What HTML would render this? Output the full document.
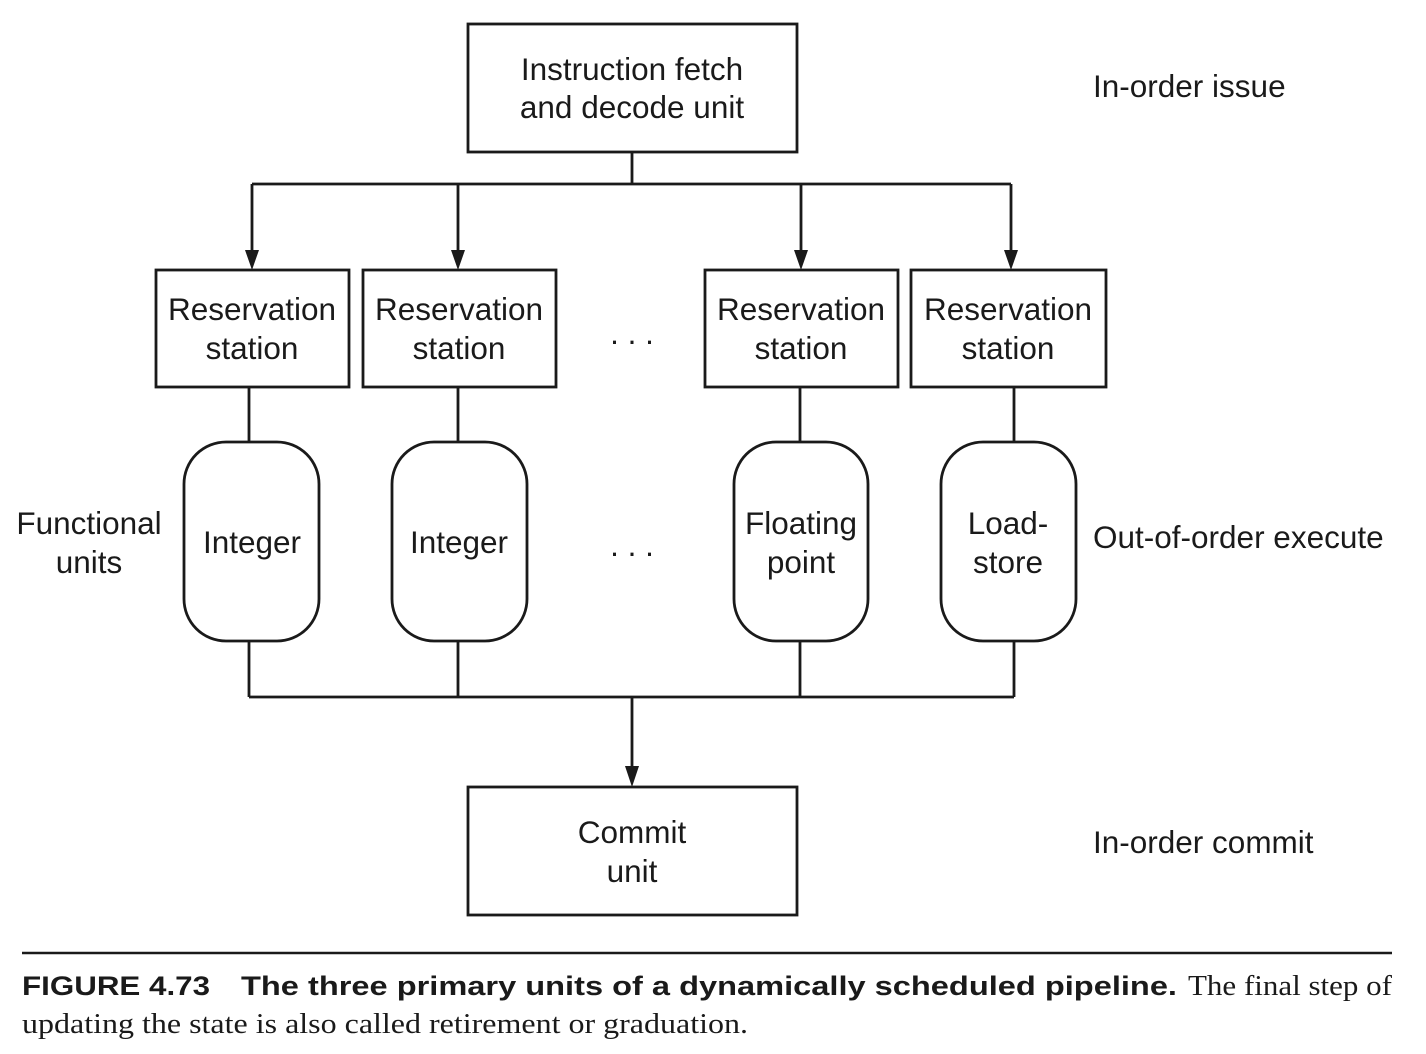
<!DOCTYPE html>
<html><head><style>
html,body{margin:0;padding:0;background:#fff;}
svg{display:block;}
text{font-family:"Liberation Sans",Arial,sans-serif;font-size:31.5px;fill:#1a1a1a;}
.c{text-anchor:middle;}
</style></head><body>
<svg width="1426" height="1054" viewBox="0 0 1426 1054" xmlns="http://www.w3.org/2000/svg">
<g fill="none" stroke="#1a1a1a" stroke-width="2.8">
<rect x="468" y="24" width="329" height="128"/>
<rect x="468" y="787" width="329" height="128"/>
<rect x="156" y="270" width="193" height="117"/>
<rect x="363" y="270" width="193" height="117"/>
<rect x="705" y="270" width="193" height="117"/>
<rect x="911" y="270" width="195" height="117"/>
<rect x="184" y="442" width="135" height="199" rx="42"/>
<rect x="392" y="442" width="135" height="199" rx="42"/>
<rect x="734" y="442" width="134" height="199" rx="42"/>
<rect x="941" y="442" width="135" height="199" rx="42"/>
<path d="M632 152V184M252 184H1011M252 184V252M458 184V252M801 184V252M1011 184V252"/>
<path d="M249 387V442M458 387V442M800 387V442M1014 387V442"/>
<path d="M249 641V697M458 641V697M800 641V697M1014 641V697M249 697H1014M632 697V768"/>
</g>
<g fill="#1a1a1a">
<path d="M245 250H259L252 270Z"/>
<path d="M451 250H465L458 270Z"/>
<path d="M794 250H808L801 270Z"/>
<path d="M1004 250H1018L1011 270Z"/>
<path d="M625 766H639L632 787Z"/>
</g>
<text class="c" x="632" y="80">Instruction fetch</text>
<text class="c" x="632" y="118">and decode unit</text>
<text class="c" x="252" y="320">Reservation</text><text class="c" x="252" y="359">station</text>
<text class="c" x="459" y="320">Reservation</text><text class="c" x="459" y="359">station</text>
<text class="c" x="801" y="320">Reservation</text><text class="c" x="801" y="359">station</text>
<text class="c" x="1008" y="320">Reservation</text><text class="c" x="1008" y="359">station</text>
<text class="c" x="632" y="344">. . .</text>
<text class="c" x="632" y="556">. . .</text>
<text class="c" x="252" y="553">Integer</text>
<text class="c" x="459" y="553">Integer</text>
<text class="c" x="801" y="534">Floating</text><text class="c" x="801" y="573">point</text>
<text class="c" x="1008" y="534">Load-</text><text class="c" x="1008" y="573">store</text>
<text class="c" x="89" y="534">Functional</text><text class="c" x="89" y="573">units</text>
<text x="1093" y="97">In-order issue</text>
<text x="1093" y="548">Out-of-order execute</text>
<text x="1093" y="853">In-order commit</text>
<text class="c" x="632" y="843">Commit</text><text class="c" x="632" y="882">unit</text>
<line x1="22" y1="953" x2="1392" y2="953" stroke="#1a1a1a" stroke-width="2.5"/>
<text x="22" y="995" style="font-weight:bold;font-size:27px" textLength="188" lengthAdjust="spacingAndGlyphs">FIGURE 4.73</text>
<text x="241" y="995" style="font-weight:bold;font-size:27px" textLength="936" lengthAdjust="spacingAndGlyphs">The three primary units of a dynamically scheduled pipeline.</text>
<text x="1188" y="995" style="font-family:'Liberation Serif',serif;font-size:28px" textLength="204" lengthAdjust="spacingAndGlyphs">The final step of</text>
<text x="22" y="1033" style="font-family:'Liberation Serif',serif;font-size:28px" textLength="726" lengthAdjust="spacingAndGlyphs">updating the state is also called retirement or graduation.</text>
</svg>
</body></html>
